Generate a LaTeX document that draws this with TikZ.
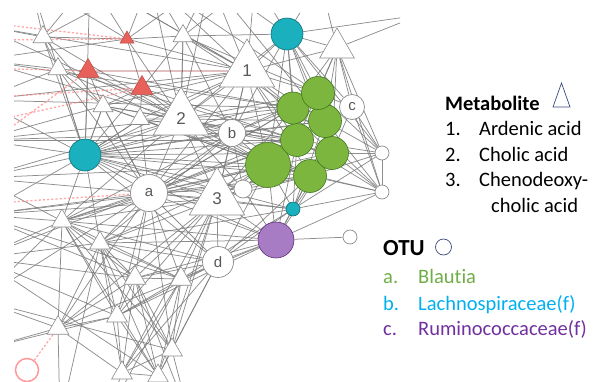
\documentclass[tikz,border=0pt]{standalone}
\usepackage{fontspec}
\setmainfont{Carlito}[Ligatures=NoCommon]
\newfontfamily\labfont{Liberation Sans}
\usetikzlibrary{shapes.geometric,backgrounds}
\definecolor{gfill}{RGB}{124,182,62}
\definecolor{gline}{RGB}{62,118,30}
\definecolor{tfill}{RGB}{26,176,190}
\definecolor{tline}{RGB}{15,110,120}
\definecolor{pfill}{RGB}{168,124,196}
\definecolor{pline}{RGB}{90,45,120}
\definecolor{rfill}{RGB}{232,96,90}
\definecolor{rline}{RGB}{190,70,65}
\definecolor{lgreen}{RGB}{112,173,71}
\definecolor{lblue}{RGB}{0,176,240}
\definecolor{lpurple}{RGB}{112,48,160}
\definecolor{iconblue}{RGB}{60,72,125}
\begin{document}
\begin{tikzpicture}[x=1pt,y=-1pt,
  tri/.style={regular polygon, regular polygon sides=3, draw=black!45, fill=white, inner sep=0pt, line width=0.6pt, font=\labfont\fontsize{17}{17}\selectfont, text=black!65},
  redtri/.style={regular polygon, regular polygon sides=3, draw=rline, fill=rfill, inner sep=0pt, line width=0.5pt},
  wcirc/.style={circle, draw=black!45, fill=white, inner sep=0pt, line width=0.7pt, font=\labfont\fontsize{15}{15}\selectfont, text=black!65},
  gcirc/.style={circle, draw=gline, fill=gfill, inner sep=0pt, line width=0.6pt, minimum size=33pt},
  tcirc/.style={circle, draw=tline, fill=tfill, inner sep=0pt, line width=0.6pt},
  edge/.style={draw=black!52, line width=0.75pt, opacity=0.85},
  reddash/.style={draw=red!50!white, dash pattern=on 2.2pt off 2pt, line width=1.3pt, opacity=0.7},
  legtext/.style={anchor=base west, inner sep=0pt, font=\fontsize{20.5}{24}\selectfont},
]
\useasboundingbox (0,0) rectangle (600,381);

% ---------------- nodes ----------------
\node[tcirc, minimum size=32pt] (tA) at (287,34) {};
\node[tcirc, minimum size=32pt] (tB) at (85,155) {};
\node[tcirc, minimum size=14pt] (tC) at (293,209) {};
\node[circle, draw=pline, fill=pfill, inner sep=0pt, line width=0.6pt, minimum size=36pt] (pu) at (276,240) {};

\node[tri, minimum size=64pt] (T1) at (247,71) {1};
\node[tri, minimum size=64pt] (T2) at (181,119) {2};
\node[tri, minimum size=64pt] (T3) at (217,199) {3};
\node[tri, minimum size=40pt] (Ttr) at (337,48) {};

\node[tri, minimum size=23pt] (s1) at (43,37) {};
\node[tri, minimum size=23pt] (s2) at (58,69) {};
\node[tri, minimum size=23pt] (s3) at (103,106) {};
\node[tri, minimum size=23pt] (s4) at (183,36) {};
\node[tri, minimum size=22pt] (s5) at (140,119) {};
\node[redtri, minimum size=16pt] (r1) at (127,39) {};
\node[redtri, minimum size=25pt] (r2) at (88,71) {};
\node[redtri, minimum size=25pt] (r3) at (142,88) {};

\node[tri, minimum size=24pt] (L1) at (62,221) {};
\node[tri, minimum size=24pt] (L2) at (100,243) {};
\node[tri, minimum size=25pt] (L3) at (135,278) {};
\node[tri, minimum size=25pt] (L4) at (181,279) {};
\node[tri, minimum size=24pt] (L5) at (117,316) {};
\node[tri, minimum size=25pt] (L6) at (58,328) {};
\node[tri, minimum size=24pt] (L7) at (172,350) {};
\node[tri, minimum size=24pt] (L8) at (122,373) {};
\node[tri, minimum size=24pt] (L9) at (158,376) {};

\node[wcirc, minimum size=37pt] (na) at (149,193) {a};
\node[wcirc, minimum size=27pt] (nb) at (232,133) {b};
\node[wcirc, minimum size=25pt] (nc) at (352,107) {c};
\node[wcirc, minimum size=31pt] (nd) at (218,262) {d};
\node[wcirc, minimum size=18pt] (w1) at (243,189) {};
\node[wcirc, minimum size=14pt] (w2) at (382,153) {};
\node[wcirc, minimum size=14pt] (w3) at (382,192) {};
\node[wcirc, minimum size=14pt] (w4) at (350,237) {};
\node[circle, draw=red!40!white, line width=1.5pt, minimum size=23pt, inner sep=0pt] (rc) at (27,370) {};

\node[gcirc, minimum size=45pt] (g6) at (268,165) {};
\node[gcirc] (g7) at (310,176) {};
\node[gcirc] (g5) at (332,153) {};
\node[gcirc] (g4) at (297,140) {};
\node[gcirc] (g3) at (325,121) {};
\node[gcirc, minimum size=32pt] (g2) at (293,108) {};
\node[gcirc] (g1) at (318,93) {};

% off-picture end points
\coordinate (oL1) at (-20,25);
\coordinate (oL2) at (-20,60);
\coordinate (oL3) at (-20,100);
\coordinate (oL4) at (-20,140);
\coordinate (oL5) at (-20,178);
\coordinate (oL6) at (-20,215);
\coordinate (oL7) at (-20,258);
\coordinate (oL8) at (-20,300);
\coordinate (oL9) at (-20,350);
\coordinate (oT1) at (30,-20);
\coordinate (oT2) at (90,-20);
\coordinate (oT3) at (150,-20);
\coordinate (oT4) at (210,-20);
\coordinate (oT5) at (255,-20);
\coordinate (oT6) at (320,-20);
\coordinate (oT7) at (420,15);
\coordinate (oB1) at (60,420);
\coordinate (oB2) at (105,420);
\coordinate (oB3) at (150,420);
\coordinate (oB4) at (190,420);
\coordinate (rd1) at (-20,22);
\coordinate (rd2) at (-20,68);
\coordinate (rd3) at (-20,98);
\coordinate (rd4) at (-20,124);
\coordinate (rd5) at (-20,150);
\coordinate (rd6) at (-20,204);
\coordinate (rd7) at (-20,40);

% ---------------- connectors ----------------
\begin{scope}[on background layer]
\clip (14,13) rectangle (400,381);
\foreach \u/\v in {tA/T1, tA/Ttr, tA/g1, tA/g2, tA/g3, tA/g4, tA/nc, tA/T2, tA/nb, tA/s4, tA/oT5, tA/oT6, tA/g6, tA/w2, tA/oT7, tA/oT4, tA/g5,
 Ttr/g1, Ttr/nc, Ttr/g3, Ttr/w2, Ttr/T1, Ttr/oT6, Ttr/oT7, Ttr/g5, Ttr/w3, Ttr/g2, Ttr/g4,
 T1/T2, T1/nb, T1/g2, T1/g4, T1/g6, T1/s4, T1/oT5, T1/oT4, T1/oT3, T1/tB, T1/na, T1/T3, T1/r3, T1/s3, T1/g1, T1/g3, T1/g5, T1/s5, T1/oL3, T1/oL1, T1/oT2, T1/g7,
 T2/tB, T2/na, T2/nb, T2/g6, T2/g2, T2/g4, T2/g3, T2/g1, T2/s3, T2/s5, T2/r3, T2/r2, T2/r1, T2/s4, T2/oT3, T2/T3, T2/L1, T2/oL2, T2/oL4, T2/g7, T2/w1, T2/g5, T2/oL5, T2/oT4,
 tB/g6, tB/g4, tB/g2, tB/g7, tB/nb, tB/na, tB/T3, tB/w1, tB/s2, tB/s3, tB/r2, tB/oL5, tB/oL4, tB/L1, tB/L2, tB/g5, tB/g3, tB/g1, tB/oL6, tB/s5, tB/pu, tB/tC, tB/oL3, tB/nd, tB/r3,
 na/g6, na/g4, na/g7, na/T3, na/nb, na/L1, na/L2, na/L3, na/L4, na/L5, na/oL7, na/oL5, na/w1, na/g2, na/nd, na/pu, na/L6, na/s5, na/g5, na/tC, na/s3, na/oL8, na/oL6, na/g3, na/L7, na/g1,
 nb/g6, nb/g2, nb/g4, nb/T3, nb/w1, nb/L2, nb/s5, nb/g1, nb/g3, nb/g7, nb/s4, nb/g5, nb/oL4, nb/L1,
 T3/g6, T3/g7, T3/pu, T3/nd, T3/L2, T3/L3, T3/L4, T3/L5, T3/w1, T3/tC, T3/g4, T3/L1, T3/L7, T3/g5, T3/L9, T3/L6, T3/oL6, T3/L8, T3/g2,
 nd/pu, nd/L4, nd/L3, nd/L7, nd/L9, nd/L5, nd/g6, nd/L2, nd/tC, nd/L1, nd/L8, nd/g7,
 pu/g6, pu/g7, pu/tC, pu/w4, pu/L4, pu/L3, pu/g5, pu/w3, pu/L2, pu/g4, pu/L1, pu/w1, pu/L5,
 tC/g7, tC/g5, tC/w3, tC/w2, tC/g6, tC/L4, tC/g4, tC/g3, tC/L2,
 g1/g3, g3/g5, g5/w2, g5/w3, g7/w3, nc/w2, w2/w3, g3/w2, g1/nc, g5/nc, nc/w3, g6/g7, g7/w2, g4/w2, g6/w3, g2/w3, g1/w2, w1/g6, w1/g4, w1/g7, g3/w3, g4/w3,
 L1/L2, L1/L3, L1/L5, L1/L6, L1/L7, L1/oL6, L1/oL7, L2/L3, L2/L4, L2/L5, L2/L7, L3/L4, L3/L5, L3/L6, L3/L7, L3/L8, L3/L9,
 L4/L7, L4/L9, L4/L5, L5/L6, L5/L8, L5/L9, L6/L8, L6/oL9, L7/L8, L7/L9, L8/L9, L6/oL8, L2/oL7, L5/oL9, L8/oB2, L9/oB3, L7/oB4, L6/oB1,
 L4/L8, L2/L8, L1/L9, L2/L9, L1/L4, L4/L6, L2/L6, L1/oL5, L1/oL8, L3/oL7, L3/oL6, L5/oL7, L7/oL8, L4/oL6, L9/oL7, L2/oB1, L4/oB2, L3/oB4,
 s1/s2, s1/oL1, s1/oT1, s1/r1, s1/s3, s1/oT2, s2/r2, s2/oL2, s2/s3, s3/r2, s3/r3, s3/s5, r1/r3, r1/s4, r1/oT3, s4/oT3, s4/r3, s5/r3, s5/tB,
 s2/oL3, s1/oT3, r1/oT2, s4/oT4, s2/tB, s3/tB, s1/tB, s3/oL4, s4/g2, s4/T2, r1/T1, s1/T2, s2/na, oL1/T2, oT2/tB, oT1/s2, s3/na,
 s2/g6, s3/g4, r2/g2, L1/g6, L2/g6, L1/g4, oL5/g6, oL4/g4, oL6/g7, oL3/g2, s5/g6, s5/g7, s3/g6, s2/g4, r3/g6, r3/g4, oL2/g2, s4/g1, oT3/g1, oT4/g3, oT2/T1, oT1/r1, s4/oT5, r1/oT4, oL2/r1}
  \draw[edge] (\u) -- (\v);
\draw[draw=red!50!black, line width=0.9pt, opacity=0.7] (r2) -- (T1);
\foreach \u/\v in {rd1/r1, rd7/r1, rd2/r2, rd3/r3, rd4/r3, rd5/r2, rd6/na, rc/L6}
  \draw[reddash] (\u) -- (\v);
\end{scope}

% ---------------- legend ----------------
\node[legtext, font=\fontsize{20.5}{24}\selectfont\bfseries] (mh) at (445,110) {Metabolite};
\draw[iconblue, line width=0.7pt] (553,107) -- (561.5,83) -- (570,107) -- cycle;
\node[legtext] (m1n) at (445,135) {1.};
\node[legtext] (m1) at (479,135) {Ardenic acid};
\node[legtext] (m2n) at (445,161) {2.};
\node[legtext] (m2) at (479,161) {Cholic acid};
\node[legtext] (m3n) at (445,186.5) {3.};
\node[legtext] (m3) at (479,186.5) {Chenodeoxy-};
\node[legtext] (m3b) at (491,212) {cholic acid};

\node[legtext, font=\fontsize{23}{26}\selectfont\bfseries] (oh) at (383,255) {OTU};
\node[circle, draw=iconblue, line width=0.7pt, minimum size=16pt, inner sep=0pt] (oicon) at (443.5,247) {};
\node[legtext, text=lgreen] (o1n) at (383,283) {a.};
\node[legtext, text=lgreen] (o1) at (418,283) {Blautia};
\node[legtext, text=lblue] (o2n) at (383,310) {b.};
\node[legtext, text=lblue] (o2) at (418,310) {Lachnospiraceae(f)};
\node[legtext, text=lpurple] (o3n) at (383,335) {c.};
\node[legtext, text=lpurple] (o3) at (418,335) {Ruminococcaceae(f)};
\end{tikzpicture}
\end{document}
